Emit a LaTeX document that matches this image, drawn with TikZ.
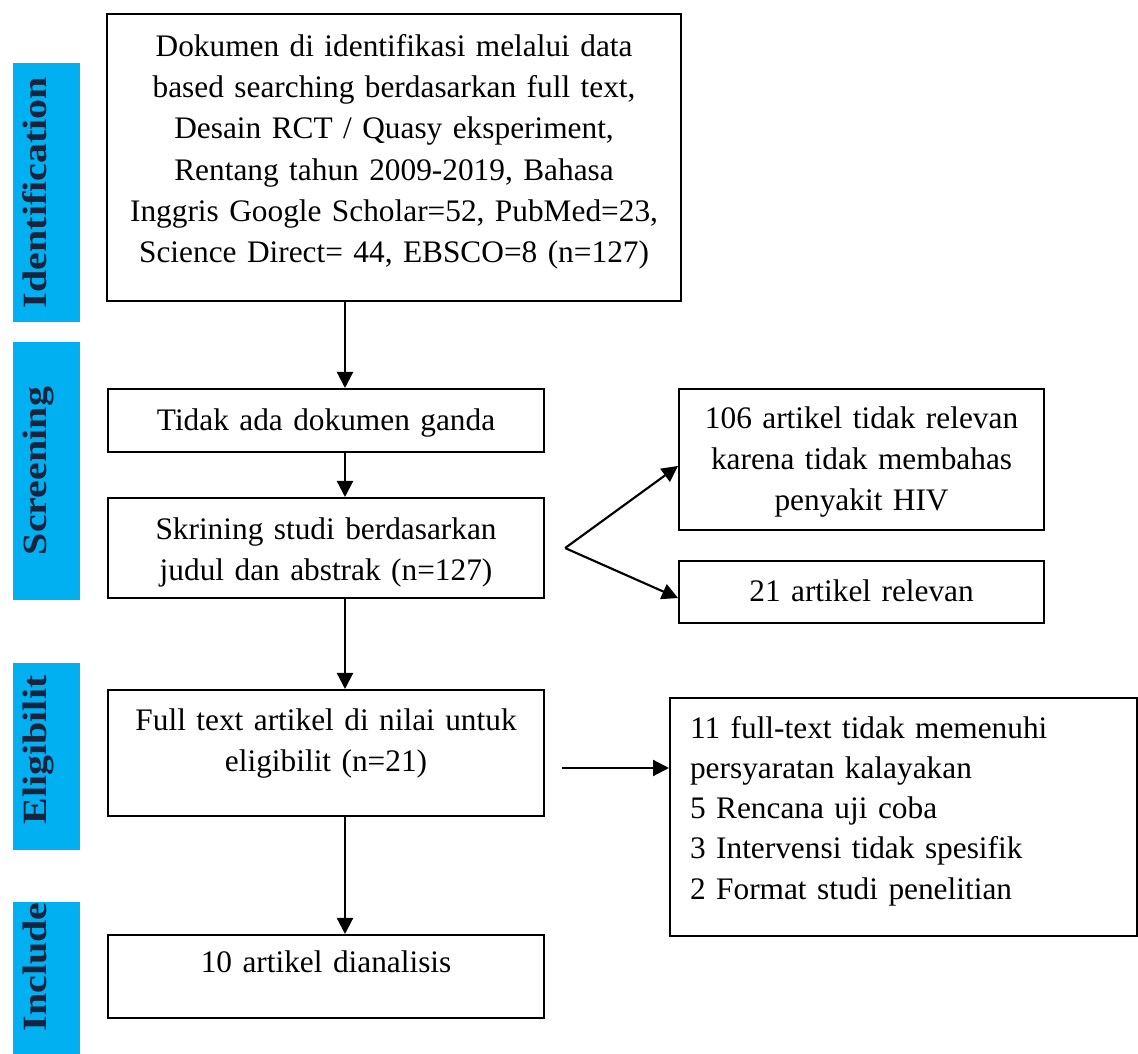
\documentclass[tikz,border=0pt]{standalone}
\usepackage{fontspec}
\setmainfont{Liberation Serif}
\usetikzlibrary{arrows.meta,calc}
\definecolor{lblue}{RGB}{0,176,240}
\definecolor{lbtext}{RGB}{25,35,60}
\begin{document}
\begin{tikzpicture}[x=0.375pt,y=-0.375pt,
  box/.style={draw=black,line width=0.8pt,inner xsep=0pt,inner ysep=0pt,
    font=\fontsize{11.75}{15.5}\selectfont,align=center,anchor=north west},
  phase/.style={fill=lblue,rotate=90,yscale=0.85,inner sep=0pt,anchor=center,
    font=\fontsize{15}{18}\selectfont\bfseries,text=lbtext,
    text height=15pt,text depth=14.56pt},
  arr/.style={line width=0.8pt,-{Triangle[length=6pt,width=6pt]}}]
\useasboundingbox (0,0) rectangle (1138,1054);

% phase labels
\node[phase,minimum width=97.125pt] (pid) at (46.5,192.5) {Identification};
\node[phase,minimum width=96.75pt] (psc) at (46.5,471) {Screening};
\node[phase,minimum width=70.125pt] (pel) at (46.5,756.5) {\hspace*{4.9pt}Eligibilit};
\node[phase,minimum width=57pt] (pin) at (46.5,978) {\hspace*{8.25pt}Include};

% main column
\node[box,minimum width=215.25pt,text width=215.25pt,text height=15.75pt,text depth=91.875pt] (main) at (106,13)
  {Dokumen di identifikasi melalui data\\ based searching berdasarkan full text,\\ Desain RCT / Quasy eksperiment,\\ Rentang tahun 2009-2019, Bahasa\\ Inggris Google Scholar=52, PubMed=23,\\ Science Direct= 44, EBSCO=8 (n=127)};
\node[box,minimum width=163.5pt,text width=163.5pt,text height=15.375pt,text depth=8.25pt] (tidak) at (107,388)
  {Tidak ada dokumen ganda};
\node[box,minimum width=163.5pt,text width=163.5pt,text height=15.375pt,text depth=22.125pt] (skr) at (107,497)
  {Skrining studi berdasarkan\\ judul dan abstrak (n=127)};
\node[box,minimum width=163.5pt,text width=163.5pt,text height=15pt,text depth=32.25pt] (full) at (107,689)
  {Full text artikel di nilai untuk\\ eligibilit (n=21)};
\node[box,minimum width=163.5pt,text width=163.5pt,text height=13.875pt,text depth=17.25pt] (ten) at (107,934)
  {10 artikel dianalisis};

% right column
\node[box,minimum width=136.875pt,text width=136.875pt,text height=14.625pt,text depth=38.25pt] (r1) at (678,388)
  {106 artikel tidak relevan\\ karena tidak membahas\\ penyakit HIV};
\node[box,minimum width=136.875pt,text width=136.875pt,text height=15pt,text depth=8.25pt] (r2) at (678,560)
  {21 artikel relevan};
\node[box,align=left,inner xsep=7.5pt,text width=160.125pt,text height=15pt,text depth=74.25pt,
  font=\fontsize{11.75}{15.1}\selectfont] (r3) at (669,697)
  {11 full-text tidak memenuhi\\ persyaratan kalayakan\\ 5 Rencana uji coba\\ 3 Intervensi tidak spesifik\\ 2 Format studi penelitian};

% connectors
\coordinate (ax) at (345,0);
\draw[arr] (main.south -| ax) -- (tidak.north -| ax);
\draw[arr] (tidak.south -| ax) -- (skr.north -| ax);
\draw[arr] (skr.south -| ax) -- (full.north -| ax);
\draw[arr] (full.south -| ax) -- (ten.north -| ax);
\coordinate (apex) at ($(skr.east)+(20,0)$);
\draw[arr] (apex) -- ([yshift=-2.4pt]r1.west);
\draw[arr] (apex) -- ([yshift=-2.25pt]r2.west);
\coordinate (hs) at (562,768);
\draw[arr] (hs) -- (hs -| r3.west);
\end{tikzpicture}
\end{document}
